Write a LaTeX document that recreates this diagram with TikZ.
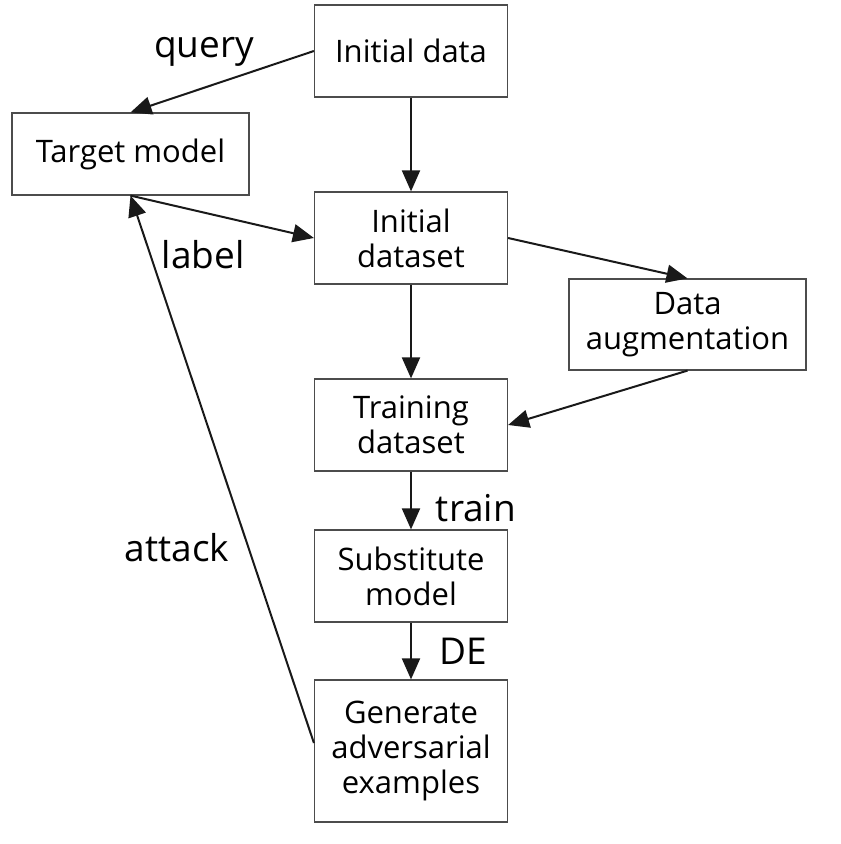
\documentclass[tikz,border=0pt]{standalone}
\usepackage{fontspec}
\setmainfont{Open Sans}
\usetikzlibrary{arrows.meta}

\begin{document}
\begin{tikzpicture}[x=0.5pt,y=-0.5pt,
  box/.style={draw=black!70,line width=0.6pt,align=center,inner sep=0pt,
    minimum width=96.5pt,minimum height=46pt,font=\fontsize{15.5}{17.5}\selectfont},
  widebox/.style={box,minimum width=118.5pt},
  flow/.style={-{Triangle[length=10.5pt,width=9pt]},line width=1pt,black!90},
  tag/.style={font=\fontsize{18.5}{20}\selectfont}]
  \useasboundingbox (0,0) rectangle (840,844);
  \node[box] (init) at (411,51) {Initial data};
  \node[widebox,minimum height=41pt] (tgt) at (130.5,154) {Target model};
  \node[box] (ids) at (411,238) {Initial\\dataset};
  \node[widebox,minimum height=45.5pt] (aug) at (687.5,324.5) {Data\\augmentation};
  \node[box] (trn) at (411,425) {Training\\dataset};
  \node[box] (sub) at (411,576) {Substitute\\model};
  \node[box,minimum height=71pt] (gen) at (411,751) {Generate\\adversarial\\examples};
  % connectors
  \draw[flow] (init.west) -- (tgt.north);
  \draw[flow] (init) -- (ids);
  \draw[flow] (tgt.south) -- (ids.west);
  \draw[flow] (ids.east) -- (aug.north);
  \draw[flow] (aug.south) -- (trn.east);
  \draw[flow] (ids) -- (trn);
  \draw[flow] (trn) -- (sub);
  \draw[flow] (sub) -- (gen);
  \draw[flow] ([yshift=4pt]gen.west) -- (tgt.south);
  % edge labels
  \node[tag] (query) at (204,52) {query};
  \node[tag] (lbl) at (203,255) {label};
  \node[tag] (atk) at (177,548) {attack};
  \node[tag] (trainlbl) at (476,508) {train};
  \node[tag] (delbl) at (463,651) {DE};
\end{tikzpicture}
\end{document}
